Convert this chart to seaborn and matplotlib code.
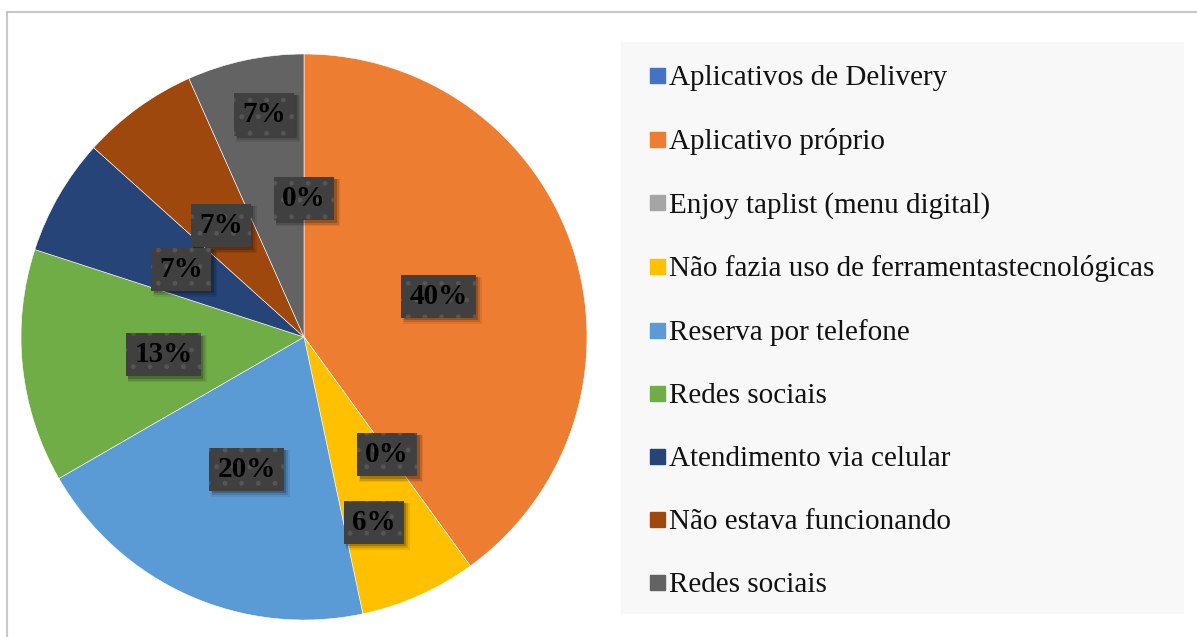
import numpy as np
import matplotlib
matplotlib.use("Agg")
import matplotlib.pyplot as plt
from matplotlib.lines import Line2D
from matplotlib.patches import Rectangle
from matplotlib.transforms import IdentityTransform
import seaborn as sns

categories = ["Aplicativos de Delivery", "Aplicativo próprio", "Enjoy taplist (menu digital)",
              "Não fazia uso de ferramentastecnológicas", "Reserva por telefone", "Redes sociais",
              "Atendimento via celular", "Não estava funcionando", "Redes sociais"]
# respondents per answer (15 in total)
counts = [0, 6, 0, 1, 3, 2, 1, 1, 1]
pct_labels = ["0%", "40%", "0%", "6%", "20%", "13%", "7%", "7%", "7%"]
colors = ["#4472C4", "#ED7D31", "#A5A5A5", "#FFC000", "#5B9BD5",
          "#70AD47", "#264478", "#9E480E", "#636363"]
# label placement: fraction of radius and angular nudge (deg, clockwise)
label_r = [0.5, 0.5, 0.5, 0.69, 0.5, 0.5, 0.5, 0.5, 0.81]
label_nudge = [0, 0, 0, 3, 0, 0, 0, 0, 2]

sns.set_theme(style="white")
plt.rcParams["font.family"] = ["Liberation Serif", "DejaVu Serif"]

W, H = 1197, 637
fig = plt.figure(figsize=(W / 100, H / 100), dpi=100)

# outer chart border (top and left edges visible)
fig.add_artist(Line2D([7 / W, 1], [1 - 12 / H, 1 - 12 / H], color="#c8c8c8", lw=1.5,
                      transform=fig.transFigure))
fig.add_artist(Line2D([7 / W, 7 / W], [0, 1 - 12 / H], color="#c8c8c8", lw=1.5,
                      transform=fig.transFigure))

cx, cy, r = 304, 337, 283
ax = fig.add_axes([(cx - r) / W, (H - cy - r) / H, 2 * r / W, 2 * r / H])
wedges, _ = ax.pie(counts, colors=colors, startangle=90, counterclock=False,
                   wedgeprops=dict(edgecolor="white", linewidth=0.4))
ax.set_xlim(-1, 1)
ax.set_ylim(-1, 1)
ax.axis("off")

labels = []
for w, lab, lr, nd in zip(wedges, pct_labels, label_r, label_nudge):
    ang = np.deg2rad((w.theta1 + w.theta2) / 2 - nd)
    t = ax.text(lr * np.cos(ang), lr * np.sin(ang), lab, ha="center", va="center_baseline",
                fontsize=21, fontweight="bold", color="black", zorder=4,
                bbox=dict(boxstyle="square,pad=0.28", facecolor="#404040",
                          edgecolor="#565656", linewidth=0, hatch="."))
    labels.append(t)

# soft drop shadow under each label box
fig.canvas.draw()
rend = fig.canvas.get_renderer()
for t in labels:
    bb = t.get_bbox_patch().get_window_extent(rend)
    for off, grow, a in [(4, 2, 0.08), (3.5, 1, 0.12), (2.5, 0, 0.2)]:
        ax.add_artist(Rectangle((bb.x0 + off - grow, bb.y0 - off - grow),
                                bb.width + 2 * grow, bb.height + 2 * grow,
                                transform=IdentityTransform(), facecolor="black",
                                alpha=a, edgecolor="none", zorder=3, clip_on=False))

# legend background
fig.add_artist(Rectangle((621 / W, 1 - 614 / H), (1184 - 621) / W, (614 - 42) / H,
                         transform=fig.transFigure, facecolor="#f8f8f8", edgecolor="none",
                         zorder=0))
handles = [Line2D([], [], marker="s", linestyle="none", markersize=10.8,
                  markerfacecolor=c, markeredgecolor=c) for c in colors]
leg = fig.legend(handles, categories, loc="upper left",
                 bbox_to_anchor=(648 / W, 1 - 65 / H), frameon=False,
                 fontsize=21, labelspacing=1.255, handlelength=0.6,
                 handletextpad=0.13, borderpad=0, borderaxespad=0)
for txt in leg.get_texts():
    txt.set_color("#111111")

fig.savefig("out.png", dpi=100)
